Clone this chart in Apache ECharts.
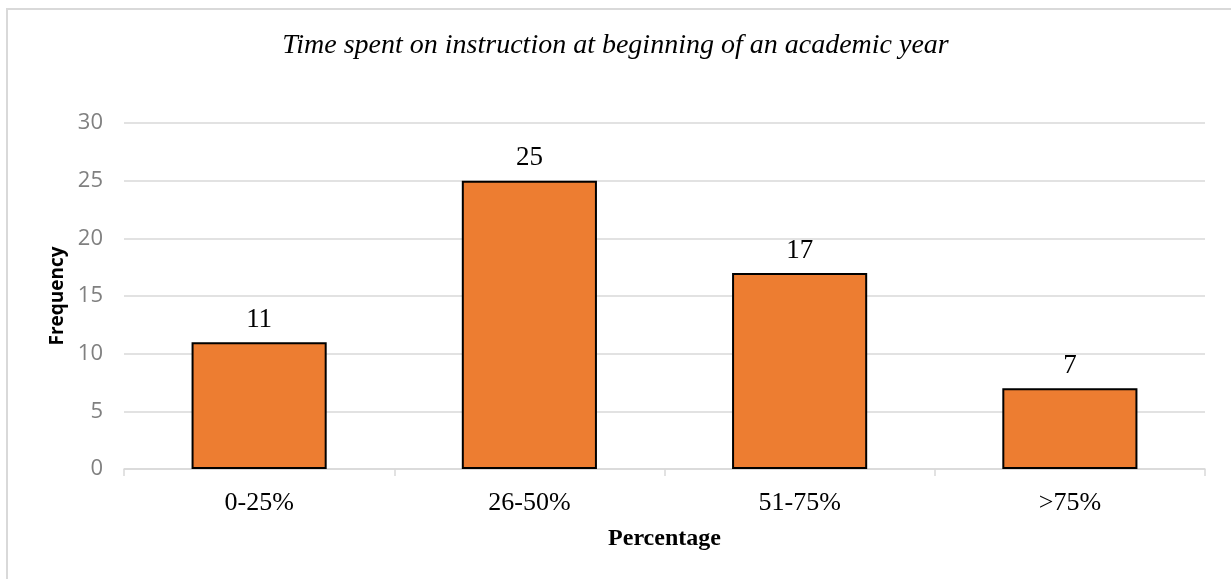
<!DOCTYPE html>
<html>
<head>
<meta charset="utf-8">
<script src="https://cdn.jsdelivr.net/npm/echarts@6/dist/echarts.min.js"></script>
<style>
  html, body { margin: 0; padding: 0; background: #fff; }
  #chart { width: 1231px; height: 579px; }
</style>
</head>
<body>
<div id="chart"></div>
<script>
const categories = ['0-25%', '26-50%', '51-75%', '>75%']
const frequency = [11, 25, 17, 7]
const yTicks = { min: 0, max: 30, interval: 5 }

const serif = '"Liberation Serif", "DejaVu Serif", serif'
const sans = '"Open Sans", "Noto Sans", sans-serif'

const chart = echarts.init(document.getElementById('chart'))
chart.setOption({
  animation: false,
  backgroundColor: '#fff',
  // light frame around the chart area, like the original chart border
  graphic: [{
    type: 'rect',
    shape: { x: 7, y: 9, width: 1400, height: 800 },
    style: { fill: 'none', stroke: '#d9d9d9', lineWidth: 2 },
    silent: true
  }],
  title: {
    text: 'Time spent on instruction at beginning of an academic year',
    left: 'center',
    top: 27,
    textStyle: { fontFamily: serif, fontStyle: 'italic', fontWeight: 'normal', fontSize: 28, color: '#000' }
  },
  grid: { left: 124, right: 26, top: 123, bottom: 110 },
  xAxis: {
    type: 'category',
    data: categories,
    name: 'Percentage',
    nameLocation: 'middle',
    nameGap: 58,
    nameTextStyle: { fontFamily: serif, fontWeight: 'bold', fontSize: 24, color: '#000' },
    axisLine: { lineStyle: { color: '#d9d9d9', width: 1.5 } },
    axisTick: { show: true, length: 7, lineStyle: { color: '#d9d9d9', width: 1.5 } },
    axisLabel: { fontFamily: serif, fontSize: 26, color: '#000', margin: 21 }
  },
  yAxis: {
    type: 'value',
    min: yTicks.min,
    max: yTicks.max,
    interval: yTicks.interval,
    name: 'Frequency',
    nameLocation: 'middle',
    nameGap: 56,
    nameTextStyle: { fontFamily: sans, fontWeight: 'bold', fontSize: 19, color: '#000' },
    axisLine: { show: false },
    axisTick: { show: false },
    axisLabel: { fontFamily: sans, fontSize: 22, color: '#808080', margin: 21 },
    splitLine: { lineStyle: { color: '#d9d9d9', width: 1.5 } }
  },
  series: [{
    type: 'bar',
    data: frequency,
    barWidth: '50%',
    itemStyle: { color: '#ed7d31', borderColor: '#000', borderWidth: 2 },
    label: {
      show: true,
      position: 'top',
      distance: 9,
      fontFamily: serif,
      fontSize: 27,
      color: '#000'
    }
  }]
})
</script>
</body>
</html>
